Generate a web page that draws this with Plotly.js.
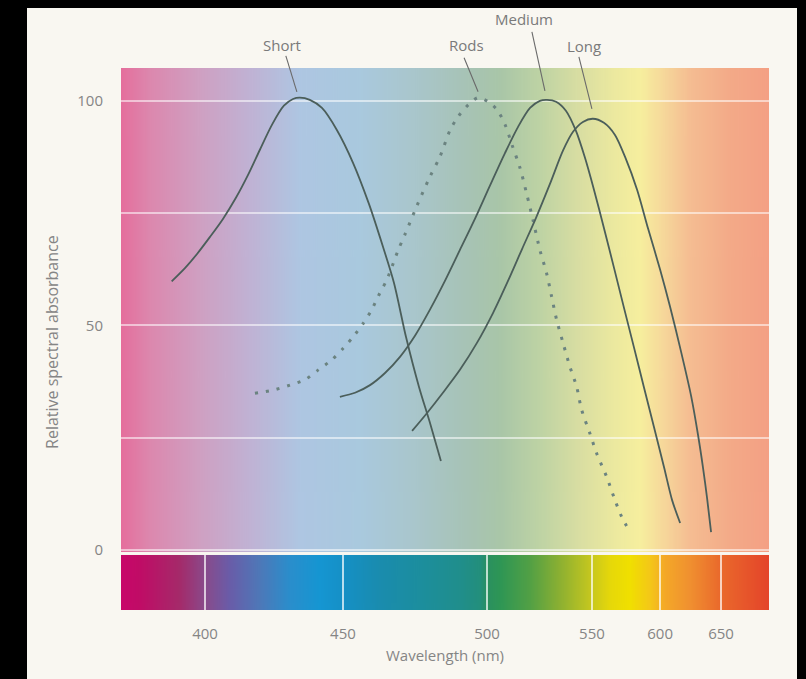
<!DOCTYPE html>
<html><head><meta charset="utf-8">
<script src="https://cdn.plot.ly/plotly-3.0.1.min.js"></script>
<style>
html,body{margin:0;padding:0;background:#000;width:806px;height:679px;overflow:hidden}
#chart{position:absolute;left:27px;top:8px;width:770px;height:671px}
</style></head><body><div id="chart"></div>
<script>
// Printed wavelength ticks (nm)
const tickNm = [400, 450, 500, 550, 600, 650];
// The printed wavelength scale is non-linear (compressed above 500 nm):
// position of each printed tick along the linear drawing axis.
const tickPos = [400, 448.9, 500, 537.2, 561.4, 583.0];

// Y-axis ticks
const yTickVals = [0, 25, 50, 75, 100];
const yTickText = ['0', '', '50', '', '100'];

// Short-wavelength cones
const shortNm  = [387.9, 392.8, 397.1, 401.8, 406.5, 411.2, 415.6, 419.9, 424.3, 428.6, 431.9, 434.4, 438.0, 442.4, 447.8, 453.5, 459.0, 463.9, 467.7, 471.9, 476.4, 480.2, 484.0];
const shortAbs = [59.8, 62.8, 65.9, 69.7, 73.7, 78.4, 83.5, 89.1, 94.7, 98.9, 100.4, 100.7, 100.2, 98.4, 93.5, 86.2, 77.1, 67.5, 59.5, 47.4, 36.3, 28.3, 19.8];

// Rods
const rodsNm  = [418.1, 424.7, 430.8, 436.2, 441.1, 445.9, 450.1, 453.6, 457.1, 460.0, 462.8, 465.2, 467.5, 469.2, 471.5, 475.6, 480.2, 483.7, 487.2, 490.0, 493.5, 496.9, 500.5, 504.8, 508.6, 511.9, 515.7, 519.0, 521.9, 525.2, 528.4, 530.8, 533.2, 536.3, 539.5, 542.7, 545.1, 549.0, 553.5, 560.8, 566.9, 571.8, 577.9];
const rodsAbs = [34.9, 35.6, 36.7, 37.9, 40.1, 42.3, 44.9, 47.5, 50.5, 53.5, 57.2, 60.1, 63.9, 66.8, 70.2, 76.5, 83.1, 87.6, 93.5, 96.5, 99.1, 100.7, 99.8, 98.0, 94.7, 90.2, 85.1, 79.1, 73.5, 66.8, 61.6, 56.4, 51.2, 46.0, 40.8, 36.4, 31.2, 26.0, 21.5, 16.3, 11.1, 7.4, 4.0];

// Medium-wavelength cones
const mediumNm  = [448.9, 454.2, 459.4, 464.6, 469.8, 475.0, 480.2, 485.4, 490.6, 495.8, 501.4, 508.6, 514.8, 520.5, 525.2, 528.6, 532.9, 537.6, 542.4, 546.7, 551.5, 558.8, 566.2, 573.5, 580.9, 588.2, 595.6, 603.3, 609.8, 616.4];
const mediumAbs = [34.1, 35.0, 36.7, 39.4, 43.0, 47.7, 53.5, 59.9, 66.8, 73.7, 81.1, 88.4, 94.2, 98.4, 100.0, 100.2, 99.8, 97.8, 93.3, 87.3, 80.2, 71.7, 62.8, 53.9, 45.0, 36.1, 27.2, 18.3, 11.1, 6.0];

// Long-wavelength cones
const longNm  = [474.0, 479.2, 484.7, 490.6, 496.5, 502.9, 510.0, 516.7, 523.3, 530.0, 536.2, 541.0, 545.7, 550.7, 558.8, 566.9, 574.3, 583.1, 591.2, 600.0, 608.2, 617.2, 625.4, 631.1, 635.2, 638.5, 641.8];
const longAbs = [26.5, 30.5, 35.0, 40.1, 46.1, 52.8, 59.9, 67.0, 73.9, 81.5, 88.9, 93.1, 95.3, 96.0, 95.1, 92.4, 87.5, 80.2, 71.5, 62.4, 54.1, 44.1, 34.3, 25.6, 18.3, 11.6, 4.0];

// Curve labels and the point on each curve they point at
const labelNames = ['Short', 'Rods', 'Medium', 'Long'];
const labelNm    = [433.3, 496.9, 527.6, 550.0];
const labelAbs   = [102.0, 102.0, 102.2, 98.2];

const xRange = [370.2, 600];
const yRange = [-0.45, 107.3];
const yDomain = [0.107, 1];

// map a wavelength onto the printed (piecewise linear) scale
function toAxis(nm) {
  let i;
  if (nm <= tickNm[0]) i = 0;
  else if (nm >= tickNm[tickNm.length - 1]) i = tickNm.length - 2;
  else { i = 0; while (nm > tickNm[i + 1]) i++; }
  const t = (nm - tickNm[i]) / (tickNm[i + 1] - tickNm[i]);
  return tickPos[i] + t * (tickPos[i + 1] - tickPos[i]);
}
function paperX(nm) { return (toAxis(nm) - xRange[0]) / (xRange[1] - xRange[0]); }
function paperY(v) { return yDomain[0] + (yDomain[1] - yDomain[0]) * (v - yRange[0]) / (yRange[1] - yRange[0]); }

function gradientURI(stops) {
  const c = document.createElement('canvas');
  c.width = 1200; c.height = 4;
  const ctx = c.getContext('2d');
  const g = ctx.createLinearGradient(0, 0, 1200, 0);
  stops.forEach(s => g.addColorStop(s[0], s[1]));
  ctx.fillStyle = g; ctx.fillRect(0, 0, 1200, 4);
  return c.toDataURL('image/png');
}

const bgStops = [
  [0, '#e56e9c'], [0.045, '#dc88ae'], [0.122, '#cfa0c2'], [0.199, '#c0b2d4'],
  [0.276, '#aec6e2'], [0.369, '#a9c9de'], [0.452, '#a9c6cc'], [0.539, '#a7c3b4'],
  [0.585, '#a9c6a8'], [0.647, '#bed3a4'], [0.708, '#d9dea2'], [0.762, '#ece99f'],
  [0.801, '#f6ef9e'], [0.840, '#f6d69a'], [0.878, '#f5bd92'], [0.940, '#f3aa88'], [1, '#f4a084']
];
const barStops = [
  [0, '#c8076a'], [0.029, '#c00c66'], [0.090, '#a52a6a'], [0.129, '#8a4a8a'],
  [0.167, '#6a5ca8'], [0.214, '#4e78b8'], [0.261, '#2a8ecc'], [0.307, '#1596d2'],
  [0.343, '#1590c6'], [0.400, '#1a8cae'], [0.461, '#1c8e9e'], [0.523, '#208e8c'],
  [0.554, '#238f7c'], [0.565, '#2a9060'], [0.585, '#2e9655'], [0.631, '#52a045'],
  [0.677, '#8cb032'], [0.727, '#c8c81e'], [0.755, '#e6d80a'], [0.785, '#f0e000'],
  [0.816, '#f4c818'], [0.840, '#f4a828'], [0.878, '#f09030'], [0.924, '#ea6a2c'], [1, '#e4442a']
];

const lineCol = '#4b5e5a';
function curve(name, xs, ys, dash, width, color) {
  return {
    type: 'scatter', mode: 'lines', name: name,
    x: xs.map(toAxis), y: ys,
    xaxis: 'x', yaxis: 'y',
    line: { color: color, width: width, dash: dash, shape: 'spline', smoothing: 0.8 },
    hoverinfo: 'skip'
  };
}

const traces = [
  curve('Short', shortNm, shortAbs, 'solid', 1.8, lineCol),
  curve('Rods', rodsNm, rodsAbs, '3px,8px', 3, '#6b8380'),
  curve('Medium', mediumNm, mediumAbs, 'solid', 1.8, lineCol),
  curve('Long', longNm, longAbs, 'solid', 1.8, lineCol),
  // invisible trace so the spectrum-bar subplot exists
  { type: 'scatter', mode: 'markers', x: [tickPos[0]], y: [0.5], xaxis: 'x2', yaxis: 'y2',
    marker: { opacity: 0 }, hoverinfo: 'skip', showlegend: false }
];

const txtCol = '#858585';
const font = "'Open Sans', 'Noto Sans', sans-serif";

// pointer line offsets (px, from tip towards label) and label text offsets
const ptrDx = [-11, -14, -13, -13];
const ptrDy = [36, 34, 59, 52];
const txtDx = [-15, -12, -21, -8];
const txtDy = [47, 47, 72, 63];

const shapes = labelNames.map((n, i) => ({
  type: 'line', xref: 'paper', yref: 'paper', xsizemode: 'pixel', ysizemode: 'pixel',
  xanchor: paperX(labelNm[i]), yanchor: paperY(labelAbs[i]),
  x0: 0, y0: 0, x1: ptrDx[i], y1: ptrDy[i],
  line: { color: '#6a6a6a', width: 1.1 }, layer: 'above'
}));

const annotations = labelNames.map((n, i) => ({
  text: n, xref: 'paper', yref: 'paper', x: paperX(labelNm[i]), y: paperY(labelAbs[i]),
  xanchor: 'center', yanchor: 'middle',
  xshift: txtDx[i], yshift: txtDy[i], showarrow: false,
  font: { family: font, size: 15, color: '#7a7a7a' }
}));
annotations.push({
  text: 'Relative spectral absorbance', xref: 'paper', yref: 'paper',
  x: -0.1065, y: 0.4945, xanchor: 'center', yanchor: 'middle',
  textangle: -90, showarrow: false,
  font: { family: font, size: 16, color: txtCol }
});

const layout = {
  width: 770, height: 671,
  margin: { l: 94, r: 28, t: 60, b: 69 },
  paper_bgcolor: '#f9f7f1', plot_bgcolor: 'rgba(0,0,0,0)',
  showlegend: false,
  xaxis: {
    domain: [0, 1], anchor: 'y', range: xRange, fixedrange: true,
    showgrid: false, zeroline: false, showline: false, showticklabels: false, ticks: ''
  },
  yaxis: {
    domain: yDomain, anchor: 'x', range: yRange, fixedrange: true,
    tickmode: 'array', tickvals: yTickVals, ticktext: yTickText,
    showgrid: true, gridcolor: 'rgba(255,255,255,0.55)', gridwidth: 2,
    zeroline: false, showline: false,
    ticks: 'outside', ticklen: 14, tickcolor: 'rgba(0,0,0,0)',
    tickfont: { family: font, size: 15, color: txtCol }
  },
  xaxis2: {
    domain: [0, 1], anchor: 'y2', matches: 'x', range: xRange, fixedrange: true,
    tickmode: 'array', tickvals: tickPos, ticktext: tickNm.map(String),
    showgrid: true, gridcolor: 'rgba(255,255,255,0.7)', gridwidth: 1.5,
    zeroline: false, showline: false,
    ticks: 'outside', ticklen: 10, tickcolor: 'rgba(0,0,0,0)',
    tickfont: { family: font, size: 15, color: txtCol },
    title: { text: 'Wavelength (nm)', standoff: 8, font: { family: font, size: 15, color: txtCol } }
  },
  yaxis2: {
    domain: [0, 0.1015], anchor: 'x2', range: [0, 1], fixedrange: true,
    showgrid: false, zeroline: false, showline: false, showticklabels: false, ticks: ''
  },
  images: [
    { source: gradientURI(bgStops), xref: 'paper', yref: 'paper', x: 0, y: 1,
      sizex: 1, sizey: 0.893, sizing: 'stretch', xanchor: 'left', yanchor: 'top', layer: 'below' },
    { source: gradientURI(barStops), xref: 'paper', yref: 'paper', x: 0, y: 0.1015,
      sizex: 1, sizey: 0.1015, sizing: 'stretch', xanchor: 'left', yanchor: 'top', layer: 'below' }
  ],
  shapes: shapes,
  annotations: annotations
};

Plotly.newPlot('chart', traces, layout, { staticPlot: true, displayModeBar: false });
</script></body></html>
